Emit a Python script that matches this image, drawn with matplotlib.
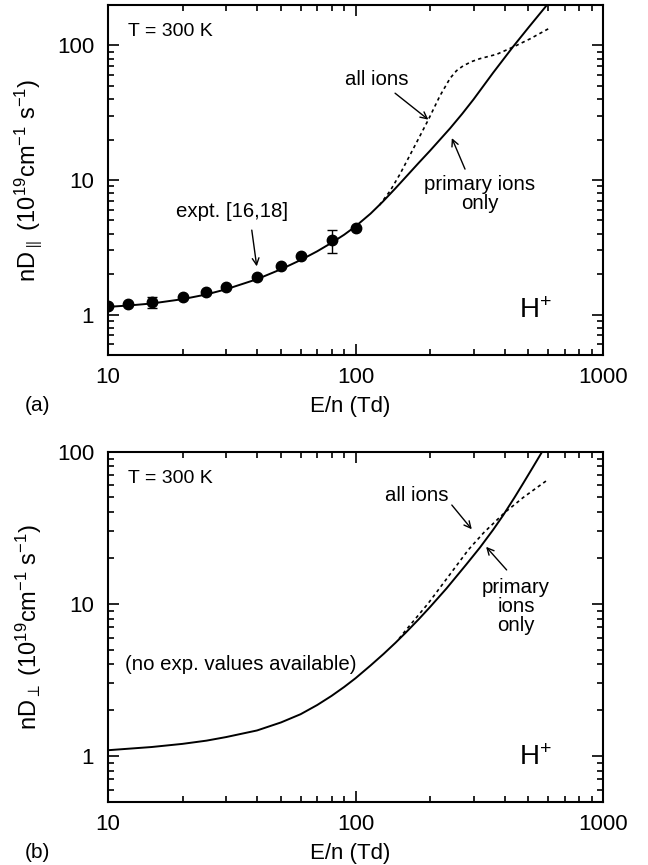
import matplotlib
matplotlib.use("Agg")
import matplotlib.pyplot as plt
import numpy as np
from matplotlib.ticker import LogLocator, FuncFormatter, NullFormatter

plt.rcParams['font.family'] = ['Liberation Sans', 'DejaVu Sans']
plt.rcParams['mathtext.fontset'] = 'custom'
plt.rcParams['mathtext.rm'] = 'Liberation Sans'
plt.rcParams['mathtext.it'] = 'Liberation Sans:italic'
plt.rcParams['mathtext.bf'] = 'Liberation Sans:bold'
plt.rcParams['mathtext.default'] = 'regular'

# panel (a): longitudinal diffusion, H+ at 300 K
expt_en = [10, 12, 15, 20, 25, 30, 40, 50, 60, 80, 100]
expt_nd_par = [1.16, 1.20, 1.24, 1.36, 1.47, 1.60, 1.89, 2.28, 2.70, 3.58, 4.41]
err_en = [15, 80]
err_low = [1.11, 2.86]
err_high = [1.36, 4.24]

prim_en_a = [10, 12, 15, 20, 25, 30, 40, 50, 60, 70, 80, 90, 100, 115, 129, 145, 161,
             180, 200, 241, 270, 300, 360, 434, 500, 583, 620]
prim_nd_par = [1.14, 1.165, 1.207, 1.30, 1.41, 1.54, 1.83, 2.17, 2.54, 2.95, 3.41, 3.92,
               4.52, 5.62, 6.91, 8.67, 10.7, 13.4, 16.5, 24.2, 31.1, 39.8, 62.8, 98.4,
               136, 192, 221]

all_en_a = [125, 138, 151, 165, 182, 197, 219, 241, 256, 272, 295, 318, 372, 434, 507, 601]
all_nd_par = [6.5, 8.3, 11.0, 15.0, 21.2, 28.1, 42, 57, 65, 70.5, 76, 79.8, 86, 97.5,
              112, 133]

# panel (b): transverse diffusion
prim_en_b = [10, 15, 20, 25, 30, 40, 50, 60, 70, 80, 90, 100, 115, 130, 145, 160, 180,
             200, 233, 280, 318, 360, 395, 440, 476, 520, 574, 620]
prim_nd_perp = [1.09, 1.144, 1.20, 1.26, 1.33, 1.47, 1.66, 1.88, 2.16, 2.48, 2.84, 3.24,
                3.93, 4.69, 5.54, 6.49, 7.91, 9.52, 12.6, 18.1, 23.4, 30.7, 38.2, 50.3,
                62, 78.7, 103, 126]

all_en_b = [150, 156, 197, 240, 286, 330, 371, 402, 440, 476, 540, 603]
all_nd_perp = [5.9, 6.4, 10.1, 15.5, 22.7, 29.4, 35.3, 40, 45, 50, 58, 66]

TICK_FS = 16
NOTE_FS = 14.7
ARROW = dict(arrowstyle='->', color='black', lw=1.0, mutation_scale=12,
             shrinkA=0, shrinkB=0)


def style_axes(ax, ymax):
    ax.set_xscale('log')
    ax.set_yscale('log')
    ax.set_xlim(10, 1000)
    ax.set_ylim(0.5, ymax)
    for sp in ax.spines.values():
        sp.set_linewidth(1.5)
    fmt = FuncFormatter(lambda v, _: f'{v:g}')
    ax.xaxis.set_major_locator(LogLocator(base=10, numticks=10))
    ax.yaxis.set_major_locator(LogLocator(base=10, numticks=10))
    ax.xaxis.set_minor_locator(LogLocator(base=10, subs=np.arange(2, 10), numticks=20))
    ax.yaxis.set_minor_locator(LogLocator(base=10, subs=np.arange(2, 10), numticks=20))
    ax.xaxis.set_major_formatter(fmt)
    ax.yaxis.set_major_formatter(fmt)
    ax.xaxis.set_minor_formatter(NullFormatter())
    ax.yaxis.set_minor_formatter(NullFormatter())
    ax.tick_params(which='both', direction='in', top=True, right=True, width=1.2)
    ax.tick_params(which='major', length=8, labelsize=TICK_FS)
    ax.tick_params(which='minor', length=4)
    ax.tick_params(axis='x', which='major', pad=9)
    ax.tick_params(axis='y', which='major', pad=10)
    ax.set_xlabel('E/n (Td)', fontsize=TICK_FS)
    ax.xaxis.set_label_coords(0.49, -0.117)
    ax.text(0.04, 0.924, 'T = 300 K', transform=ax.transAxes, fontsize=14,
            ha='left', va='center')
    ax.text(0.83, 0.106, 'H$^{+}$', transform=ax.transAxes, fontsize=20,
            ha='left', va='baseline')


fig = plt.figure(figsize=(6.48, 8.65), dpi=100)
ax_a = fig.add_axes([108 / 648, 1 - 355 / 865, 495 / 648, 350 / 865])
ax_b = fig.add_axes([108 / 648, 1 - 801.7 / 865, 495 / 648, 350 / 865])

# ---- (a)
style_axes(ax_a, 200)
ax_a.plot(prim_en_a, prim_nd_par, color='black', lw=1.4)
ax_a.plot(all_en_a, all_nd_par, color='black', lw=1.2, linestyle=(0, (2, 2)))
ax_a.plot(expt_en, expt_nd_par, 'o', color='black', markersize=7.5)
err_mid = [expt_nd_par[expt_en.index(e)] for e in err_en]
ax_a.errorbar(err_en, err_mid,
              yerr=[np.subtract(err_mid, err_low), np.subtract(err_high, err_mid)],
              fmt='none', ecolor='black', elinewidth=1.0, capsize=3.5, capthick=1.0)
ax_a.set_ylabel('nD$_{\\parallel}$ (10$^{19}$cm$^{-1}$ s$^{-1}$)', fontsize=17)
ax_a.yaxis.set_label_coords(-0.13, 0.5)

ax_a.text(31.7, 5.8, 'expt. [16,18]', fontsize=NOTE_FS, ha='center', va='center')
ax_a.annotate('', xy=(39.9, 2.28), xytext=(38.1, 4.24), arrowprops=ARROW)
ax_a.text(121.6, 56, 'all ions', fontsize=NOTE_FS, ha='center', va='center')
ax_a.annotate('', xy=(197, 28.1), xytext=(144.5, 44.2), arrowprops=ARROW)
ax_a.text(317, 7.85, 'primary ions\nonly', fontsize=NOTE_FS, ha='center', va='center',
          linespacing=1.0)
ax_a.annotate('', xy=(245, 20.5), xytext=(277, 12.05), arrowprops=ARROW)

# ---- (b)
style_axes(ax_b, 100)
ax_b.plot(prim_en_b, prim_nd_perp, color='black', lw=1.4)
ax_b.plot(all_en_b, all_nd_perp, color='black', lw=1.2, linestyle=(0, (2, 2)))
ax_b.set_ylabel('nD$_{\\perp}$ (10$^{19}$cm$^{-1}$ s$^{-1}$)', fontsize=17)
ax_b.yaxis.set_label_coords(-0.13, 0.5)

ax_b.text(0.034, 0.393, '(no exp. values available)', transform=ax_b.transAxes,
          fontsize=NOTE_FS, ha='left', va='center')
ax_b.text(177, 51.9, 'all ions', fontsize=NOTE_FS, ha='center', va='center')
ax_b.annotate('', xy=(295, 30.9), xytext=(245, 44.6), arrowprops=ARROW)
ax_b.text(445, 9.67, 'primary\nions\nonly', fontsize=NOTE_FS, ha='center', va='center',
          linespacing=1.0)
ax_b.annotate('', xy=(337, 23.7), xytext=(408, 16.7), arrowprops=ARROW)

fig.text(37.5 / 648, 1 - 405.5 / 865, '(a)', fontsize=15, ha='center', va='center')
fig.text(37.5 / 648, 1 - 852 / 865, '(b)', fontsize=15, ha='center', va='center')

fig.savefig('out.png', dpi=100)
